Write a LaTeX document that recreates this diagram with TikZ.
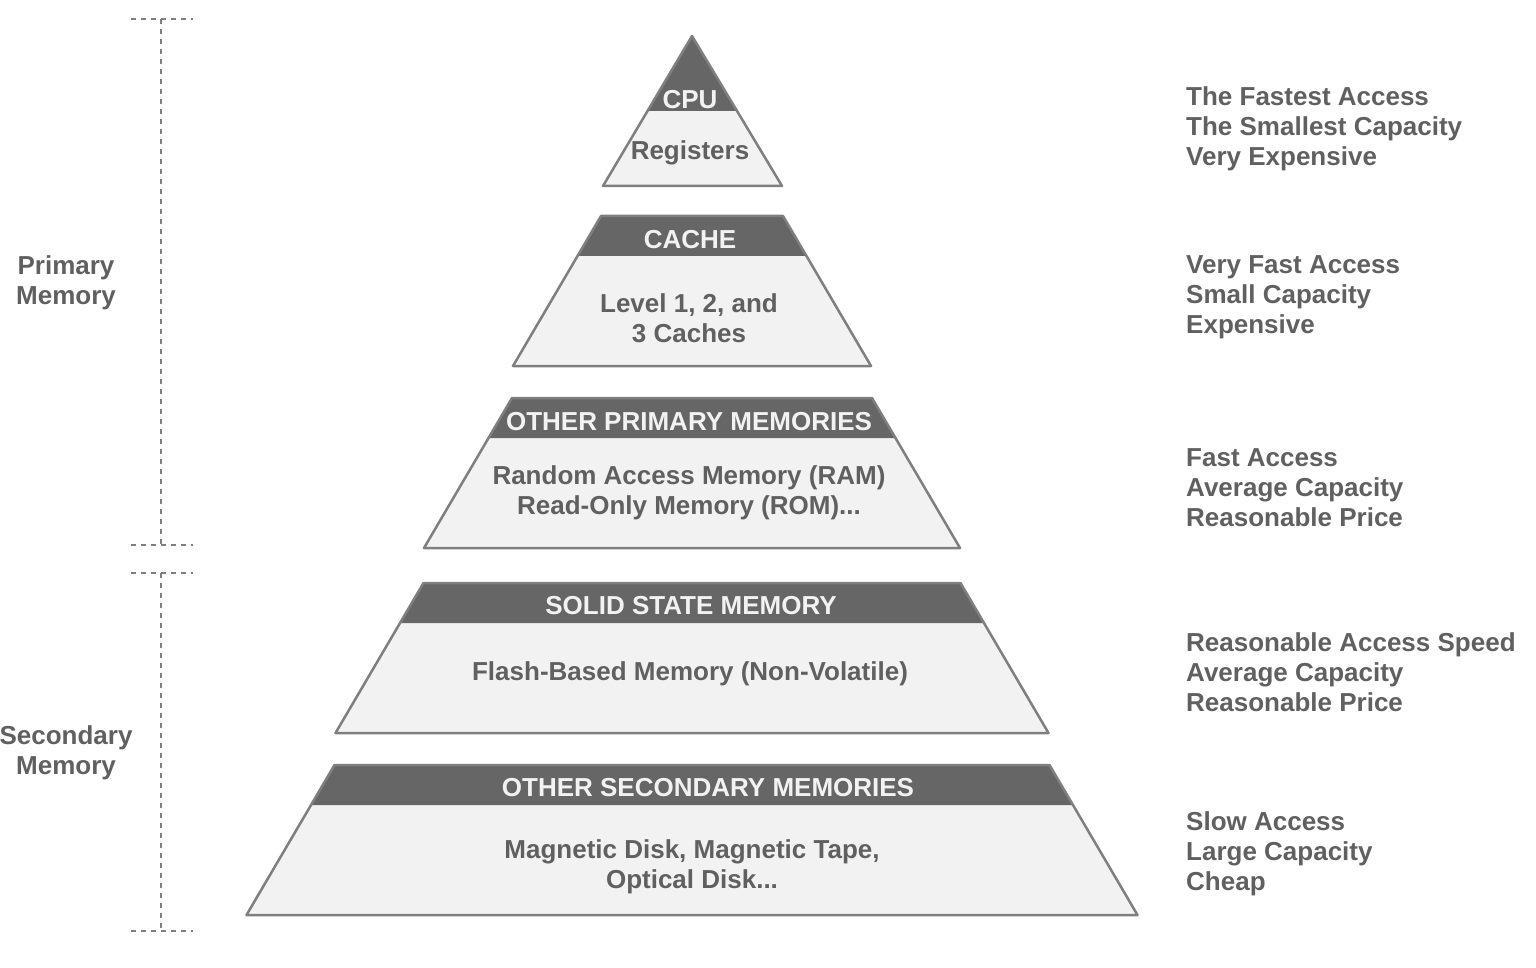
\documentclass[tikz,border=0pt]{standalone}
\usepackage{fontspec}
\setmainfont{Liberation Sans}
\usetikzlibrary{positioning}

\definecolor{hdrgray}{HTML}{666666}
\definecolor{bandgray}{HTML}{F2F2F2}
\definecolor{linegray}{HTML}{7F7F7F}
\definecolor{txtgray}{HTML}{606060}

\begin{document}
\begin{tikzpicture}[x=1pt,y=-1pt,
    lbl/.style={font=\fontsize{26}{30}\selectfont\bfseries, text=txtgray, align=center, inner sep=0pt},
    hdr/.style={font=\fontsize{26}{30}\selectfont\bfseries, text=bandgray, align=center, inner sep=0pt},
    side/.style={lbl, align=left, anchor=west},
    brk/.style={draw=linegray, line width=1.2pt, dash pattern=on 5pt off 5pt}]
        \useasboundingbox (0,0) rectangle (1536,968);

        % top triangle
        \fill[bandgray] (692,36) -- (782,186) -- (603,186) -- cycle;
        \fill[hdrgray] (692,36) -- (737,111) -- (647,111) -- cycle;
        \draw[linegray, line width=2.5pt, line join=round] (692,36) -- (782,186) -- (603,186) -- cycle;

        % other bands: top y / top half width / bottom half width
        \foreach \yt/\ht/\hb in {216/91/179, 398/180/268, 583/268.5/356.5, 765/357.5/445.5} {
          \pgfmathsetmacro\yh{\yt+40}
          \pgfmathsetmacro\yb{\yt+150}
          \pgfmathsetmacro\hh{\ht+(\hb-\ht)*40/150}
          \fill[bandgray] ({692-\ht},\yt) -- ({692+\ht},\yt) -- ({692+\hb},\yb) -- ({692-\hb},\yb) -- cycle;
          \fill[hdrgray] ({692-\ht},\yt) -- ({692+\ht},\yt) -- ({692+\hh},\yh) -- ({692-\hh},\yh) -- cycle;
          \draw[linegray, line width=2.5pt, line join=round] ({692-\ht},\yt) -- ({692+\ht},\yt) -- ({692+\hb},\yb) -- ({692-\hb},\yb) -- cycle;
        }

        % band texts
        \node[hdr] (cpu) at (690,100) {CPU};
        \node[lbl] (reg) at (690,153) {Registers};
        \node[hdr] (cache) at (690,240) {CACHE};
        \node[lbl] (lvl) at (689,318) {Level 1, 2, and\\3 Caches};
        \node[hdr] (opm) at (689,422) {OTHER PRIMARY MEMORIES};
        \node[lbl] (ram) at (689,493) {Random Access Memory (RAM)\\Read-Only Memory (ROM)...};
        \node[hdr] (ssm) at (691,606) {SOLID STATE MEMORY};
        \node[lbl] (flash) at (690,674) {Flash-Based Memory (Non-Volatile)};
        \node[hdr] (osm) at (708,788) {OTHER SECONDARY MEMORIES};
        \node[lbl] (disk) at (692,867) {Magnetic Disk, Magnetic Tape,\\Optical Disk...};

        % right side
        \node[side] (r1) at (1186,129) {The Fastest Access\\The Smallest Capacity\\Very Expensive};
        \node[side] (r2) at (1186,297) {Very Fast Access\\Small Capacity\\Expensive};
        \node[side] (r3) at (1186,488) {Fast Access\\Average Capacity\\Reasonable Price};
        \node[side] (r4) at (1186,672) {Reasonable Access Speed\\Average Capacity\\Reasonable Price};
        \node[side] (r5) at (1186,854) {Slow Access\\Large Capacity\\Cheap};

        % left brackets
        \coordinate (p1) at (161,19);
        \coordinate (p2) at (161,545);
        \coordinate (s1) at (161,573);
        \coordinate (s2) at (161,931);
        \draw[brk] (131,19) -- (193,19);
        \draw[brk] (131,545) -- (193,545);
        \draw[brk] (131,573) -- (193,573);
        \draw[brk] (131,931) -- (193,931);
        \draw[brk] (p1) -- (p2);
        \draw[brk] (s1) -- (s2);

        \node[lbl] (prim) at (66,283) {Primary\\Memory};
        \node[lbl] (sec) at (66,753) {Secondary\\Memory};
      \end{tikzpicture}
\end{document}
